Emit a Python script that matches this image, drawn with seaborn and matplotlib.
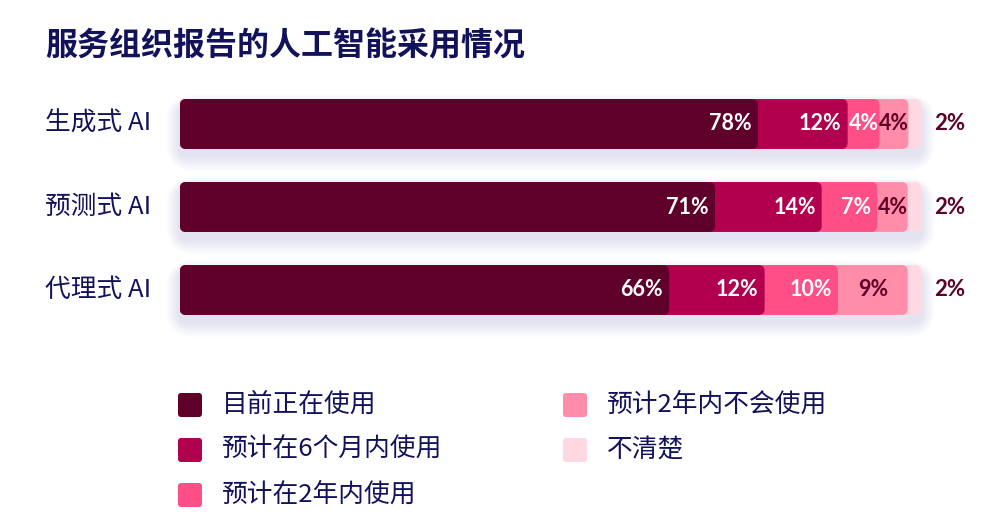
import numpy as np
import pandas as pd
import matplotlib
matplotlib.use('Agg')
import matplotlib.pyplot as plt
import seaborn as sns
from matplotlib.patches import FancyBboxPatch, Rectangle

# ---------------- data ----------------
title = '服务组织报告的人工智能采用情况'
categories = ['生成式 AI', '预测式 AI', '代理式 AI']
series_names = ['目前正在使用', '预计在6个月内使用', '预计在2年内使用', '预计2年内不会使用', '不清楚']
current = [78.0, 72.2, 66.0]
within_6_months = [12.1, 14.4, 12.9]
within_2_years = [4.3, 7.5, 9.9]
not_within_2_years = [3.9, 4.1, 9.4]
unsure = [1.7, 1.8, 1.8]
current_labels = ['78%', '71%', '66%']
within_6_months_labels = ['12%', '14%', '12%']
within_2_years_labels = ['4%', '7%', '10%']
not_within_2_years_labels = ['4%', '4%', '9%']
unsure_labels = ['2%', '2%', '2%']

series = [current, within_6_months, within_2_years, not_within_2_years, unsure]
labels = [current_labels, within_6_months_labels, within_2_years_labels,
          not_within_2_years_labels, unsure_labels]
colors = ['#5E0029', '#B0004E', '#FF4F86', '#FF8DA9', '#FFD9E1']
NAVY = '#12125C'
MAROON = '#5E0029'

sns.set_theme(style='white')
plt.rcParams['font.family'] = ['Noto Sans CJK SC', 'DejaVu Sans']
NUMFONT = ['Lato', 'DejaVu Sans']
NUMSIZE = 15.5

W, H = 1000, 524
fig = plt.figure(figsize=(W / 100, H / 100), dpi=100)
fig.patch.set_facecolor('white')

# background / pixel axes
bg = fig.add_axes([0, 0, 1, 1], zorder=0)
bg.set_xlim(0, W)
bg.set_ylim(H, 0)
bg.axis('off')

# bar axes: x 0..100 -> px 180..921 ; categories centred at 124, 207, 290 px
X0, X1 = 180, 921
YT, YB = 82.5, 331.5
ax = fig.add_axes([X0 / W, 1 - YB / H, (X1 - X0) / W, (YB - YT) / H], zorder=1)
ax.patch.set_alpha(0)
pxx = (X1 - X0) / 100.0
pxy = (YB - YT) / 3.0
bar_h = 0.6

# shadows (pixel space)
for i in range(len(categories)):
    yc = YT + pxy * (i + 0.5)
    top = yc - bar_h * pxy / 2
    for j in range(14):
        s = 1.5 + j * 1.7
        bg.add_patch(FancyBboxPatch((X0 - s * 0.6, top + 7 - s * 0.5), (X1 - X0) + 1.2 * s,
                                    bar_h * pxy + s * 1.15,
                                    boxstyle=f'round,pad=0,rounding_size={6 + s}',
                                    facecolor='#5a64c0', edgecolor='none', alpha=0.011))

# cumulative stacked bars drawn longest first
cum = np.cumsum(np.array(series), axis=0)
for k in range(len(series) - 1, -1, -1):
    df = pd.DataFrame({'cat': categories, 'cum': cum[k]})
    sns.barplot(data=df, x='cum', y='cat', order=categories, color=colors[k],
                orient='h', width=bar_h, errorbar=None, saturation=1, ax=ax)

# round the bar ends
rects = [p for p in ax.patches if isinstance(p, Rectangle)]
for p in rects:
    x, y = p.get_x(), p.get_y()
    w, h = p.get_width(), p.get_height()
    fc = p.get_facecolor()
    p.remove()
    ax.add_patch(FancyBboxPatch((x, y), w, h,
                                boxstyle=f'round,pad=0,rounding_size={6 / pxx}',
                                mutation_aspect=(1 / pxy) / (1 / pxx),
                                facecolor=fc, edgecolor='none'))

ax.set_xlim(0, 100)
ax.set_ylim(2.5, -0.5)
ax.axis('off')

# segment labels
for i in range(len(categories)):
    start = 0.0
    for k in range(4):
        v = series[k][i]
        end = start + v
        col = 'white' if k < 3 else MAROON
        if v * pxx > 50 and k < 3:
            ax.text(end - 6 / pxx, i, labels[k][i], ha='right', va='center',
                    color=col, fontsize=NUMSIZE, fontweight='bold', family=NUMFONT)
        else:
            ax.text((start + end) / 2, i, labels[k][i], ha='center', va='center',
                    color=col, fontsize=NUMSIZE, fontweight='bold', family=NUMFONT)
        start = end
    ax.text((950 - X0) / pxx, i, labels[4][i], ha='center', va='center',
            color=MAROON, fontsize=NUMSIZE + 0.5, fontweight='bold', family=NUMFONT,
            clip_on=False)

# category labels
for i, c in enumerate(categories):
    bg.text(45, YT + pxy * (i + 0.5), c, ha='left', va='center', fontsize=18.5, color=NAVY)

# title
bg.text(45, 46, title, ha='left', va='center', fontsize=23, fontweight='bold', color=NAVY)

# legend
leg_pos = [(178, 405), (178, 450), (178, 495), (563, 405), (563, 450)]
for (lx, ly), name, c in zip(leg_pos, series_names, colors):
    bg.add_patch(FancyBboxPatch((lx, ly - 12), 24, 24, boxstyle='round,pad=0,rounding_size=3',
                                facecolor=c, edgecolor='none'))
    bg.text(lx + 44, ly, name, ha='left', va='center', fontsize=18.5, color=NAVY)

fig.savefig('out.png', dpi=100, facecolor='white')
